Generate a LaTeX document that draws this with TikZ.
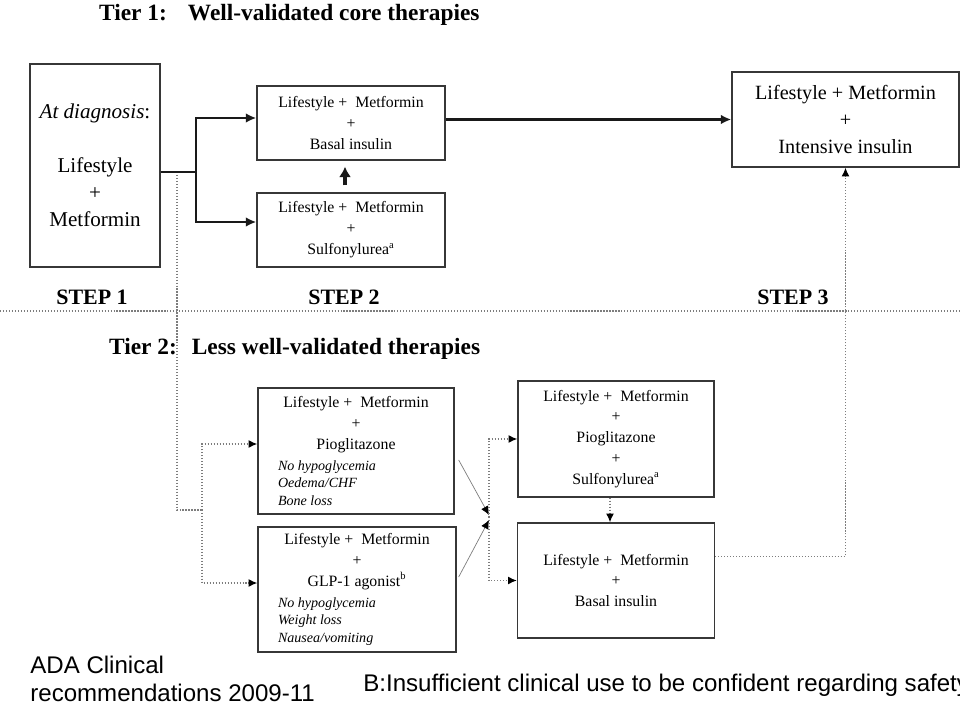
\documentclass[tikz,border=0pt]{standalone}
\usepackage{fontspec}
\setmainfont{Liberation Serif}
\setsansfont{Liberation Sans}
\usepackage{tikz}
\usetikzlibrary{arrows.meta,positioning}
\definecolor{boxgray}{RGB}{55,55,55}
\definecolor{dotgray}{RGB}{125,125,125}
\tikzstyle{stepbox} = [draw=boxgray,line width=0.8pt,align=center,inner sep=0pt,font=\fontsize{9}{11.9}\selectfont]
\tikzstyle{tiertitle} = [font=\fontsize{13.3}{15}\selectfont\bfseries]
\tikzstyle{steplabel} = [font=\fontsize{12.5}{15}\selectfont\bfseries]
\tikzstyle{footnote} = [font=\sffamily\fontsize{13.7}{16}\selectfont,inner sep=0pt]
\tikzstyle{bigline} = [line width=1.6pt,color=black!90]
\tikzstyle{bigarrow} = [bigline,-{Latex[length=6pt,width=5.5pt]}]
\tikzstyle{uparrow} = [line width=2pt,color=black!90,-{Latex[length=6pt,width=7pt]}]
\tikzstyle{dotline} = [densely dotted,line width=0.7pt,color=dotgray]
\tikzstyle{dotarrow} = [dotline,-{Latex[length=5pt,width=4.5pt,color=black]}]
\tikzstyle{thinarrow} = [line width=0.4pt,color=dotgray,-{Latex[length=5pt,width=4.5pt,color=black]}]

\begin{document}
\begin{tikzpicture}[x=0.02cm,y=-0.02cm]
\useasboundingbox (0,0) rectangle (960,705);

% Tier 1
\node[tiertitle,anchor=west] (tier1) at (93,15) {Tier 1:\hspace{0.42cm}Well-validated core therapies};

\node[stepbox,minimum width=2.6cm,minimum height=4.06cm,font=\fontsize{12}{15.3}\selectfont] (diag) at (95,165.5)
  {\textit{At diagnosis}:\\[15.3pt] Lifestyle\\ +\\ Metformin};
\node[stepbox,minimum width=3.76cm,minimum height=1.48cm] (t1basal) at (351,123)
  {Lifestyle + \ Metformin\\ +\\ Basal insulin};
\node[stepbox,minimum width=3.76cm,minimum height=1.48cm] (t1su) at (351,230)
  {Lifestyle + \ Metformin\\ +\\ Sulfonylurea\textsuperscript{a}};
\node[stepbox,minimum width=4.54cm,minimum height=1.9cm,font=\fontsize{11.5}{15.5}\selectfont] (t1intens) at (845.5,119.5)
  {Lifestyle + Metformin\\ +\\ Intensive insulin};

\coordinate (split) at (196,172);
\coordinate (drop) at (177,172);
\draw[bigline] (diag.east |- split) -- (split);
\draw[bigarrow] (split) |- ([yshift=0.1cm]t1basal.west);
\draw[bigarrow] (split) |- ([yshift=0.16cm]t1su.west);
\draw[uparrow] ([xshift=-0.12cm,yshift=0.14cm]t1su.north) -- ([xshift=-0.12cm,yshift=-0.12cm]t1basal.south);
\draw[bigarrow] (t1basal.east |- t1intens.west) -- (t1intens.west);

% Steps
\node[steplabel] (step1) at (92,297) {STEP 1};
\node[steplabel] (step2) at (344,297) {STEP 2};
\node[steplabel] (step3) at (793,297) {STEP 3};
\draw[dotline] (0,311) -- (960,311);

% Tier 2
\node[tiertitle,anchor=west] (tier2) at (103,349) {Tier 2:\hspace{0.3cm}Less well-validated therapies};

\node[stepbox,minimum width=3.92cm,minimum height=2.52cm] (pio) at (356,451)
  {Lifestyle + \ Metformin\\ +\\ Pioglitazone\\
   \parbox[t]{3.12cm}{\raggedright\fontsize{8}{9.9}\selectfont\itshape No hypoglycemia\\ Oedema/CHF\\ Bone loss}};
\node[stepbox,minimum width=3.96cm,minimum height=2.5cm] (glp) at (357,589.5)
  {Lifestyle + \ Metformin\\ +\\ GLP-1 agonist\textsuperscript{b}\\
   \parbox[t]{3.16cm}{\raggedright\fontsize{8}{9.9}\selectfont\itshape No hypoglycemia\\ Weight loss\\ Nausea/vomiting}};
\node[stepbox,minimum width=3.92cm,minimum height=2.32cm] (piosu) at (616,439)
  {Lifestyle + \ Metformin\\ +\\ Pioglitazone\\ +\\ Sulfonylurea\textsuperscript{a}};
\node[stepbox,minimum width=3.94cm,minimum height=2.3cm] (basal2) at (616,580.5)
  {Lifestyle + \ Metformin\\ +\\ Basal insulin};

\coordinate (branch) at (202,510);
\coordinate (merge) at (489,517);
\draw[dotline] ([yshift=-0.06cm]drop) |- (branch);
\draw[dotarrow] (branch) |- ([yshift=0.14cm]pio.west);
\draw[dotarrow] (branch) |- ([yshift=0.13cm]glp.west);
\draw[thinarrow] ([xshift=0.08cm,yshift=-0.18cm]pio.east) -- ([yshift=0.04cm]merge);
\draw[thinarrow] ([xshift=0.04cm,yshift=0.25cm]glp.east) -- ([yshift=-0.06cm]merge);
\draw[dotarrow] (merge) |- (piosu.west);
\draw[dotarrow] (merge) |- (basal2.west);
\draw[dotarrow] ([xshift=-0.12cm]piosu.south) -- ([xshift=-0.12cm]basal2.north);
\draw[dotarrow] ([yshift=0.48cm]basal2.east) -| (t1intens.south);

% Notes
\node[footnote,anchor=west,align=left] (ada) at (30,679) {ADA Clinical\\ recommendations 2009-11};
\node[footnote,anchor=west] (insuff) at (363,685) {B:Insufficient clinical use to be confident regarding safety};
\end{tikzpicture}
\end{document}
